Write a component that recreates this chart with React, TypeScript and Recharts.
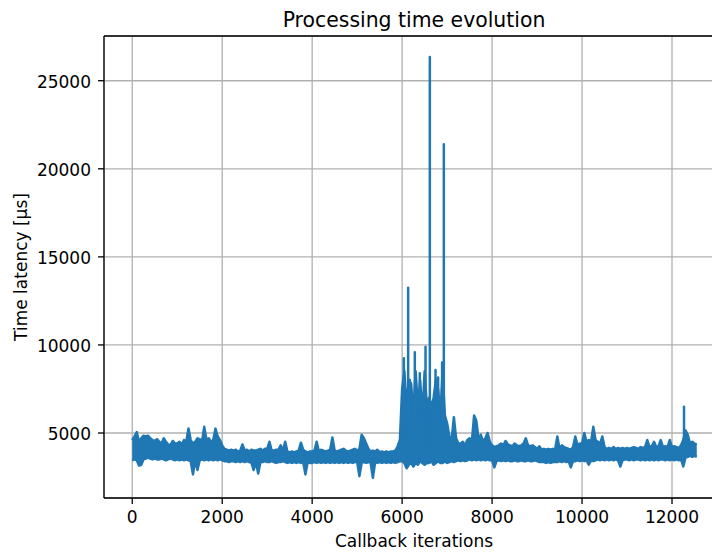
import { ComposedChart, Area, Line, XAxis, YAxis, CartesianGrid, ReferenceLine } from "recharts";

// the trace is far denser than the pixels, so it is kept as the min / max
// envelope of every STEP callbacks; each segment covers 1000 iterations
const STEP = 50;

const high0 = [4600, 4800, 5050, 4500, 4700, 4850, 4800, 4850, 4700, 4600, 4550, 4650, 4500, 4400, 4700, 4500, 4350, 4300, 4550, 4400];
const low0 = [3450, 3500, 3450, 3150, 3200, 3500, 3550, 3600, 3550, 3500, 3550, 3500, 3500, 3550, 3500, 3450, 3500, 3550, 3500, 3450];
const high1 = [4400, 4500, 4350, 4600, 4500, 5250, 4600, 4400, 4500, 4700, 4650, 4500, 5350, 4600, 4700, 4500, 4600, 5250, 4800, 4600];
const low1 = [3500, 3450, 3500, 3450, 3500, 3450, 3400, 2650, 3450, 2900, 3450, 3500, 3450, 3500, 3450, 3500, 3450, 3500, 3450, 3500];
const high2 = [4300, 4100, 4050, 4000, 4050, 4000, 4050, 3950, 4000, 4350, 4000, 4050, 3950, 4050, 4000, 4000, 4050, 4100, 4000, 4100];
const low2 = [3450, 3400, 3400, 3350, 3400, 3400, 3350, 3400, 3350, 3400, 3350, 3400, 3350, 3300, 2900, 3350, 2700, 3350, 3350, 3400];
const high3 = [4100, 4500, 4000, 4000, 4050, 4050, 4300, 4000, 4500, 3950, 3900, 3950, 3900, 3950, 4000, 4450, 4050, 3950, 3900, 3950];
const low3 = [3350, 3350, 3400, 3350, 3300, 3350, 3350, 3400, 3350, 3300, 3350, 3300, 3350, 3300, 3350, 3300, 3350, 2650, 3350, 3300];
const high4 = [3950, 4000, 4500, 3950, 4050, 4000, 3950, 4000, 4050, 4750, 4000, 3950, 4000, 4050, 4100, 4000, 3950, 4000, 4050, 4100];
const low4 = [3300, 3350, 3300, 3350, 3300, 3350, 3300, 3350, 3300, 3350, 3300, 3350, 3300, 3350, 3300, 3350, 3300, 3350, 3300, 3350];
const high5 = [4000, 4100, 4900, 4700, 4400, 4100, 3950, 4000, 3950, 4050, 3900, 3950, 3900, 3950, 3900, 3950, 3950, 4000, 4250, 4600];
const low5 = [3350, 2550, 3300, 3350, 3300, 3350, 3300, 2450, 3350, 3300, 3350, 3300, 3350, 3300, 3350, 3300, 3350, 3300, 3350, 3400];
const high6 = [7500, 8500, 6500, 8000, 7800, 6000, 8500, 6500, 8000, 6000, 8500, 6500, 7000, 6500, 7000, 8000, 7500, 6000, 8500, 6000];
const low6 = [3400, 3300, 3000, 3200, 3300, 3100, 3300, 3200, 3400, 3300, 3200, 3300, 3300, 3400, 3200, 3300, 3400, 3300, 3300, 3400];
const high7 = [5550, 4800, 4600, 5900, 4700, 4400, 4400, 4500, 4300, 4600, 4700, 4500, 6000, 5700, 4600, 4900, 4500, 4700, 5000, 4500];
const low7 = [3300, 3350, 3400, 3350, 3400, 3450, 3400, 3450, 3400, 3450, 3500, 3450, 3500, 3450, 3500, 3450, 3500, 3450, 3500, 3450];
const high8 = [4300, 4200, 4250, 4300, 4400, 4300, 4550, 4350, 4300, 4250, 4400, 4300, 4250, 4300, 4400, 4700, 4300, 4250, 4300, 4200];
const low8 = [3450, 3050, 3400, 3450, 3400, 3450, 3400, 3450, 3400, 3400, 3450, 3400, 3400, 3450, 3400, 3400, 3450, 3400, 3400, 3450];
const high9 = [4100, 4250, 4050, 4100, 4050, 4100, 4050, 4100, 4050, 4800, 4100, 4300, 4200, 4150, 4100, 4050, 4200, 4800, 4300, 4400];
const low9 = [3400, 3350, 3350, 3350, 3300, 3350, 3300, 3350, 3350, 3350, 3400, 3350, 3400, 3350, 3400, 3050, 3400, 3400, 3450, 3400];
const high10 = [4400, 5000, 4500, 4600, 4500, 5350, 4600, 4500, 4400, 4800, 4200, 4100, 4150, 4100, 4200, 4100, 4150, 4100, 4150, 4100];
const low10 = [3450, 3400, 3450, 3200, 3450, 3400, 3450, 3500, 3450, 3500, 3450, 3500, 3450, 3500, 3450, 3500, 3450, 3100, 3450, 3500];
const high11 = [4150, 4100, 4150, 4200, 4150, 4100, 4200, 4150, 4200, 4600, 4200, 4250, 4500, 4200, 4250, 4600, 4200, 4250, 4200, 4600];
const low11 = [3500, 3450, 3500, 3450, 3500, 3500, 3450, 3500, 3450, 3500, 3450, 3500, 3450, 3500, 3450, 3500, 3500, 3450, 3500, 3450];
const high12 = [4200, 4250, 4200, 4150, 4300, 4600, 5150, 4900, 4400, 4500, 4400, 4350];
const low12 = [3500, 3450, 3500, 3450, 3500, 3100, 3600, 3650, 3700, 3650, 3700, 3650];

// isolated single-sample spikes that stick out of the band
const peakIterations = [6038, 6134, 6171, 6282, 6393, 6520, 6616, 6742, 6800, 6889, 6927, 12267];
const peakValues = [9240, 13250, 8010, 9580, 8390, 9900, 26350, 8580, 8150, 9010, 21400, 6490];
const PEAK_BASE = 3850;

const highs = [...high0, ...high1, ...high2, ...high3, ...high4, ...high5, ...high6, ...high7, ...high8, ...high9, ...high10, ...high11, ...high12];
const lows = [...low0, ...low1, ...low2, ...low3, ...low4, ...low5, ...low6, ...low7, ...low8, ...low9, ...low10, ...low11, ...low12];

const xTicks = [0, 2000, 4000, 6000, 8000, 10000, 12000];
const yTicks = [5000, 10000, 15000, 20000, 25000];

const X_MIN = -628;
const X_MAX = 13178;
const Y_MIN = 1310;
const Y_MAX = 27540;

const FONT = "'DejaVu Sans', sans-serif";

const data = highs.map((h, i) => ({ iteration: i * STEP, latency: [lows[i], h] }));
const peakData = peakIterations.flatMap((it, i) => [
  { iteration: it, latency: PEAK_BASE },
  { iteration: it, latency: peakValues[i] },
  { iteration: it, latency: PEAK_BASE },
]);

function XTick({ x, y, payload }: any) {
  return (
    <text x={x} y={y} dy={17.3} textAnchor="middle" fontSize={17} fontFamily={FONT} fill="#000">
      {payload.value}
    </text>
  );
}

function YTick({ x, y, payload }: any) {
  return (
    <text x={x} y={y} dy={7} textAnchor="end" fontSize={17} fontFamily={FONT} fill="#000">
      {payload.value}
    </text>
  );
}

export default function App() {
  return (
    <div style={{ position: "fixed", left: 0, top: 0, width: 712, height: 554, overflow: "hidden", background: "#fff" }}>
      <ComposedChart width={740} height={554} data={data} margin={{ top: 36, right: 15, bottom: 0, left: 0 }}>
        <CartesianGrid stroke="#b0b0b0" strokeWidth={1.3} />
        <XAxis
          dataKey="iteration"
          type="number"
          domain={[X_MIN, X_MAX]}
          ticks={xTicks}
          allowDataOverflow
          height={56}
          tickSize={6}
          tickMargin={2}
          tick={<XTick />}
          stroke="#000"
          strokeWidth={1.3}
        />
        <YAxis
          type="number"
          domain={[Y_MIN, Y_MAX]}
          ticks={yTicks}
          allowDataOverflow
          width={104}
          tickSize={6}
          tickMargin={7}
          tick={<YTick />}
          stroke="#000"
          strokeWidth={1.3}
        />
        <ReferenceLine y={Y_MAX} stroke="#000" strokeWidth={1.3} />
        <ReferenceLine x={X_MAX} stroke="#000" strokeWidth={1.3} />
        <Area
          dataKey="latency"
          type="linear"
          stroke="#1f77b4"
          strokeWidth={2.5}
          strokeLinejoin="round"
          fill="#1f77b4"
          fillOpacity={1}
          dot={false}
          activeDot={false}
          isAnimationActive={false}
        />
        <Line
          data={peakData}
          dataKey="latency"
          type="linear"
          stroke="#1f77b4"
          strokeWidth={2.5}
          strokeLinejoin="round"
          dot={false}
          activeDot={false}
          isAnimationActive={false}
        />
      </ComposedChart>
      <svg width={712} height={554} style={{ position: "absolute", left: 0, top: 0, pointerEvents: "none" }}>
        <text x={414} y={26.5} textAnchor="middle" fontSize={20.4} fontFamily={FONT} fill="#000">
          Processing time evolution
        </text>
        <text x={414} y={546.7} textAnchor="middle" fontSize={17} fontFamily={FONT} fill="#000">
          Callback iterations
        </text>
        <text transform="translate(26.5,267) rotate(-90)" textAnchor="middle" fontSize={17} fontFamily={FONT} fill="#000">
          Time latency [µs]
        </text>
      </svg>
    </div>
  );
}
